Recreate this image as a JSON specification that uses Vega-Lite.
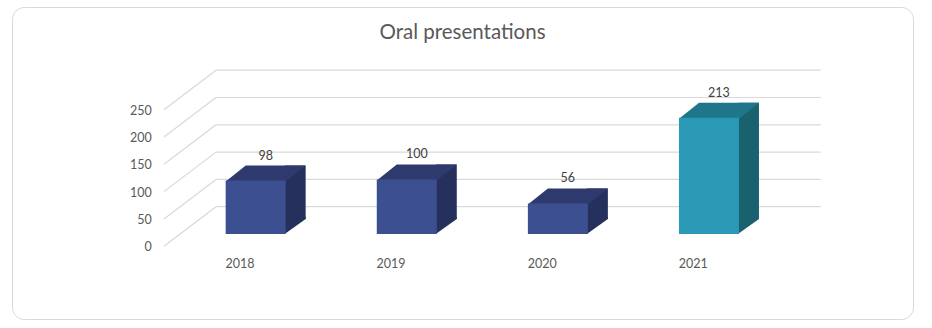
{
  "$schema": "https://vega.github.io/schema/vega-lite/v6.json",
  "autosize": {"type": "none"},
  "width": 901,
  "height": 312,
  "padding": {"left": 12, "top": 7, "right": 19, "bottom": 9},
  "background": "white",
  "config": {
    "view": {"stroke": "#d9d9d9", "strokeWidth": 1, "cornerRadius": 12},
    "axis": {"disable": true},
    "font": "Lato"
  },
  "title": {
    "text": "Oral presentations",
    "anchor": "middle",
    "frame": "group",
    "offset": -52.5,
    "baseline": "alphabetic",
    "fontSize": 20.5,
    "font": "Lato",
    "fontWeight": "normal",
    "color": "#595959"
  },
  "datasets": {
    "oral": [
      {"year": "2018", "n": 98},
      {"year": "2019", "n": 100},
      {"year": "2020", "n": 56},
      {"year": "2021", "n": 213}
    ],
    "ticks": [
      {"v": 0}, {"v": 50}, {"v": 100}, {"v": 150}, {"v": 200}, {"v": 250}
    ]
  },
  "layer": [
    {
      "data": {"name": "ticks"},
      "mark": {"type": "rule", "color": "#d9d9d9", "strokeWidth": 1.2, "xOffset": -39.7, "x2Offset": 565},
      "encoding": {
        "x": {"datum": "2018", "type": "nominal", "axis": null, "scale": {"type": "band", "paddingInner": 0.03706, "paddingOuter": 1, "align": 0.5656}},
        "x2": {"datum": "2018"},
        "y": {"field": "v", "type": "quantitative", "axis": null, "scale": {"domain": [-205.7, 365.8], "nice": false, "zero": false}}
      }
    },
    {
      "data": {"name": "ticks"},
      "mark": {"type": "rule", "color": "#d9d9d9", "strokeWidth": 1.2, "xOffset": -91.7, "x2Offset": -39.7, "yOffset": 39.5, "y2Offset": 0},
      "encoding": {
        "x": {"datum": "2018", "type": "nominal", "axis": null},
        "x2": {"datum": "2018"},
        "y": {"field": "v", "type": "quantitative", "axis": null},
        "y2": {"field": "v"}
      }
    },
    {
      "data": {"name": "ticks"},
      "mark": {"type": "text", "align": "right", "baseline": "middle", "xOffset": -104, "yOffset": 40.5, "fontSize": 12.5, "font": "Lato", "color": "#595959"},
      "encoding": {
        "x": {"datum": "2018", "type": "nominal", "axis": null},
        "y": {"field": "v", "type": "quantitative", "axis": null},
        "text": {"field": "v", "type": "quantitative"}
      }
    },
    {
      "data": {"name": "oral"},
      "mark": {"type": "bar", "width": 21, "xOffset": 39.5, "yOffset": 12.3, "y2Offset": 12.3},
      "encoding": {
        "x": {"field": "year", "type": "nominal", "axis": null},
        "y": {"field": "n", "type": "quantitative", "axis": null},
        "y2": {"datum": 0},
        "color": {"condition": {"test": "datum.year === '2021'", "value": "#19616f"}, "value": "#25305c"}
      }
    },
    {
      "data": {"name": "oral"},
      "mark": {"type": "point", "filled": true, "opacity": 1, "strokeWidth": 0, "size": 10000, "shape": "M0.58,-0.34L1,-0.34L1,-0.3L0.58,0Z", "yOffset": 27.3},
      "encoding": {
        "x": {"field": "year", "type": "nominal", "axis": null},
        "y": {"datum": 0, "type": "quantitative", "axis": null},
        "color": {"condition": {"test": "datum.year === '2021'", "value": "#19616f"}, "value": "#25305c"}
      }
    },
    {
      "data": {"name": "oral"},
      "mark": {"type": "point", "filled": true, "opacity": 1, "strokeWidth": 0, "size": 10000, "shape": "M-0.6,0.02L0.6,0.02L1,-0.3L-0.2,-0.3Z", "yOffset": 27.3},
      "encoding": {
        "x": {"field": "year", "type": "nominal", "axis": null},
        "y": {"field": "n", "type": "quantitative", "axis": null},
        "color": {"condition": {"test": "datum.year === '2021'", "value": "#1f768a"}, "value": "#2e3a6e"}
      }
    },
    {
      "data": {"name": "oral"},
      "mark": {"type": "bar", "width": 60, "yOffset": 27.3, "y2Offset": 27.3},
      "encoding": {
        "x": {"field": "year", "type": "nominal", "axis": null},
        "y": {"field": "n", "type": "quantitative", "axis": null},
        "y2": {"datum": 0},
        "color": {"condition": {"test": "datum.year === '2021'", "value": "#2999b6"}, "value": "#3c4f91"}
      }
    },
    {
      "data": {"name": "oral"},
      "mark": {"type": "text", "baseline": "middle", "align": "center", "xOffset": 10, "yOffset": 2.3, "fontSize": 12.5, "font": "Lato", "color": "#404040"},
      "encoding": {
        "x": {"field": "year", "type": "nominal", "axis": null},
        "y": {"field": "n", "type": "quantitative", "axis": null},
        "text": {"field": "n", "type": "quantitative"}
      }
    },
    {
      "data": {"name": "oral"},
      "mark": {"type": "text", "baseline": "middle", "align": "center", "xOffset": -15.7, "yOffset": 57.6, "fontSize": 12.5, "font": "Lato", "color": "#595959"},
      "encoding": {
        "x": {"field": "year", "type": "nominal", "axis": null},
        "y": {"datum": 0, "type": "quantitative", "axis": null},
        "text": {"field": "year", "type": "nominal"}
      }
    }
  ]
}
